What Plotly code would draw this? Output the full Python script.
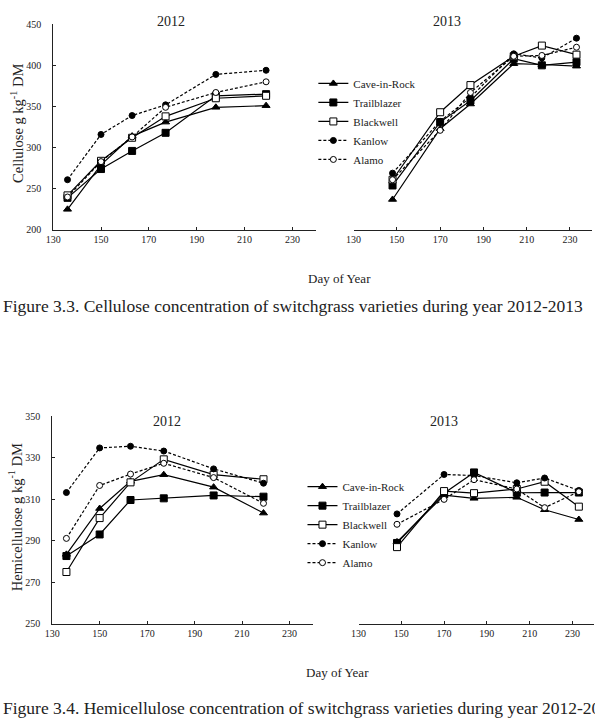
import plotly.graph_objects as go

W, H = 595, 724

varieties = ["Cave-in-Rock", "Trailblazer", "Blackwell", "Kanlow", "Alamo"]
days_2012 = [136, 150, 163, 177, 198, 219]
days_2013 = [148, 170, 184, 204, 217, 233]

cell_2012 = {
    "Cave-in-Rock": [225, 279, 314, 331, 349, 351],
    "Trailblazer": [239, 274, 296, 318, 363, 365],
    "Blackwell": [242, 284, 312, 338, 360, 363],
    "Kanlow": [261, 316, 339, 352, 389, 394],
    "Alamo": [240, 283, 313, 349, 367, 380],
}
cell_2013 = {
    "Cave-in-Rock": [237, 323, 353, 402, 401, 399],
    "Trailblazer": [254, 331, 357, 408, 400, 404],
    "Blackwell": [261, 343, 376, 411, 424, 413],
    "Kanlow": [269, 332, 361, 414, 409, 433],
    "Alamo": [261, 321, 367, 411, 412, 422],
}
hemi_2012 = {
    "Cave-in-Rock": [283.5, 305.6, 318.7, 321.9, 315.9, 303.4],
    "Trailblazer": [282.7, 293.1, 309.7, 310.5, 311.9, 311.3],
    "Blackwell": [275, 301, 318.2, 329.3, 321.9, 319.7],
    "Kanlow": [313.3, 334.8, 335.6, 333.3, 324.7, 317.8],
    "Alamo": [291.2, 316.7, 322.2, 327.4, 320.5, 308.1],
}
hemi_2013 = {
    "Cave-in-Rock": [289.5, 312, 310.5, 311, 305, 300.3],
    "Trailblazer": [289, 313, 323, 313.2, 313.3, 313.3],
    "Blackwell": [287, 314, 313, 315, 318.5, 306.5],
    "Kanlow": [303, 322, 321.5, 318, 320.3, 314.3],
    "Alamo": [298, 310, 319.5, 315, 306, 313.7],
}

x_ticks = [130, 150, 170, 190, 210, 230]
cell_ticks = [200, 250, 300, 350, 400, 450]
hemi_ticks = [250, 270, 290, 310, 330, 350]

styles = {
    "Cave-in-Rock": dict(symbol="triangle-up", fill="black", dash="solid", size=7),
    "Trailblazer": dict(symbol="square", fill="black", dash="solid", size=7),
    "Blackwell": dict(symbol="square", fill="white", dash="solid", size=7),
    "Kanlow": dict(symbol="circle", fill="black", dash="3px,2px", size=6),
    "Alamo": dict(symbol="circle", fill="white", dash="3px,2px", size=6),
}

SERIF = "Liberation Serif, Times New Roman, serif"
fig = go.Figure()

panels = [
    (cell_2012, days_2012, "x", "y", None),
    (cell_2013, days_2013, "x2", "y2", "legend"),
    (hemi_2012, days_2012, "x3", "y3", None),
    (hemi_2013, days_2013, "x4", "y4", "legend2"),
]
for data, days, xa, ya, leg in panels:
    for v in varieties:
        s = styles[v]
        kw = dict(showlegend=leg is not None)
        if leg:
            kw["legend"] = leg
        fig.add_trace(go.Scatter(
            x=days, y=data[v], name=v, mode="lines+markers",
            xaxis=xa, yaxis=ya,
            line=dict(color="black", width=1.2, dash=s["dash"]),
            marker=dict(symbol=s["symbol"], size=s["size"], color=s["fill"],
                        line=dict(color="black", width=1)),
            **kw))

def px_x(p):
    return p / W

def px_y(p):
    return 1 - p / H

axis_common = dict(showgrid=False, zeroline=False, linecolor="#222", linewidth=1,
                   ticks="inside", ticklen=3, tickcolor="#222",
                   tickfont=dict(family=SERIF, size=10, color="#222"))

def xax(d0, d1, anchor):
    return dict(domain=[px_x(d0), px_x(d1)], range=[130, 240], tickvals=x_ticks,
                anchor=anchor, showline=True, ticklabelstandoff=0, **axis_common)

def yax(d0, d1, rng, ticks, anchor, visible=True):
    return dict(domain=[px_y(d1), px_y(d0)], range=rng, tickvals=ticks, anchor=anchor,
                visible=visible, showline=True, ticklabelstandoff=9, **axis_common)

fig.update_layout(
    width=W, height=H, autosize=False,
    margin=dict(l=0, r=0, t=0, b=0),
    paper_bgcolor="white", plot_bgcolor="white",
    xaxis=xax(46.7, 313, "y"),
    yaxis=yax(18.5, 227.7, [200, 450], cell_ticks, "x"),
    xaxis2=xax(350.7, 591.6, "y2"),
    yaxis2=yax(18.5, 227.7, [200, 450], cell_ticks, "x2", visible=False),
    xaxis3=xax(45.7, 310, "y3"),
    yaxis3=yax(417.3, 628.3, [250, 350], hemi_ticks, "x3"),
    xaxis4=xax(355.7, 593.8, "y4"),
    yaxis4=yax(417.3, 628.3, [250, 350], hemi_ticks, "x4", visible=False),
    legend=dict(x=px_x(310), y=px_y(64), xanchor="left", yanchor="top",
                font=dict(family=SERIF, size=11, color="#222"),
                bgcolor="rgba(0,0,0,0)", itemwidth=30, tracegroupgap=0),
    legend2=dict(x=px_x(299), y=px_y(474), xanchor="left", yanchor="top",
                 font=dict(family=SERIF, size=11, color="#222"),
                 bgcolor="rgba(0,0,0,0)", itemwidth=30, tracegroupgap=0),
)

def ann(text, x, y, size, angle=0, xanchor="center"):
    fig.add_annotation(text=text, x=px_x(x), y=px_y(y), xref="paper", yref="paper",
                       showarrow=False, textangle=angle, xanchor=xanchor, yanchor="middle",
                       font=dict(family=SERIF, size=size, color="#222"))

ann("2012", 166, 16, 14)
ann("2013", 445, 16, 14)
ann("2012", 162, 423, 14)
ann("2013", 442, 422, 14)
ann("Cellulose g kg<sup>-1</sup> DM", 10, 119, 14.5, angle=-90)
ann("Hemicellulose g kg<sup>-1</sup> DM", 9, 520, 14.5, angle=-90)
ann("Day of Year", 336, 277, 13)
ann("Day of Year", 334, 678, 13)
ann("Figure 3.3. Cellulose concentration of switchgrass varieties during year 2012-2013", -6, 305, 17.5, xanchor="left")
ann("Figure 3.4. Hemicellulose concentration of switchgrass varieties during year 2012-2013", -6, 714, 17.5, xanchor="left")

fig.write_html("out.html", config={"displayModeBar": False})
